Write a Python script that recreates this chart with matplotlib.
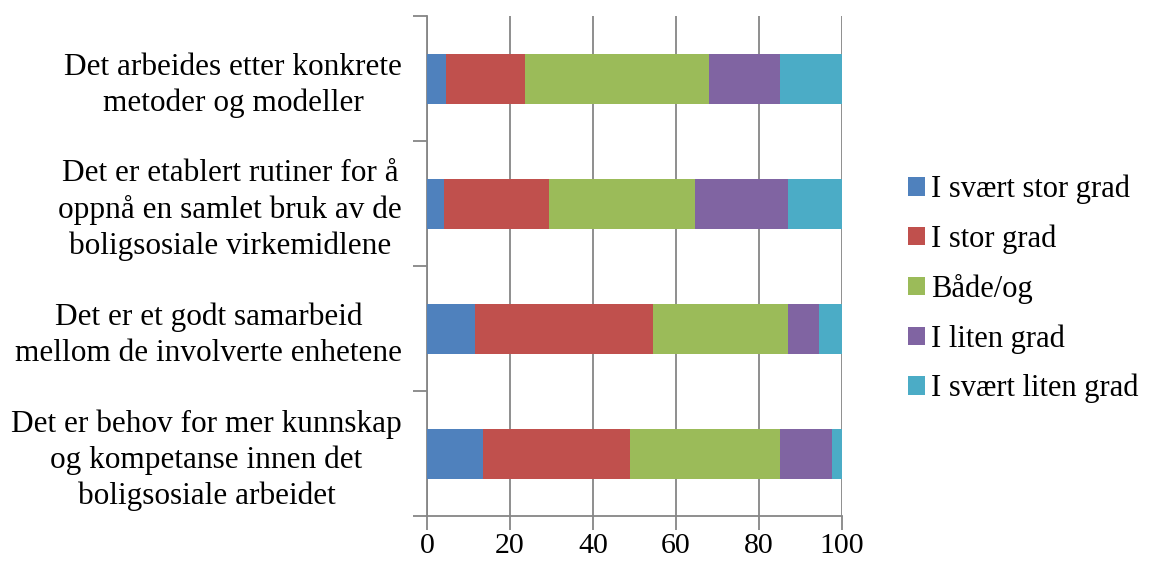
import matplotlib
matplotlib.use("Agg")
import matplotlib.pyplot as plt
import numpy as np

# Survey statements (top to bottom as shown) and response shares in percent
statements = [
    "Det arbeides etter konkrete\nmetoder og modeller",
    "Det er etablert rutiner for å\noppnå en samlet bruk av de\nboligsosiale virkemidlene",
    "Det er et godt samarbeid\nmellom de involverte enhetene",
    "Det er behov for mer kunnskap\nog kompetanse innen det\nboligsosiale arbeidet",
]
categories = ["I svært stor grad", "I stor grad", "Både/og", "I liten grad", "I svært liten grad"]
svaert_stor = [4.6, 4.1, 11.5, 13.5]
stor = [18.9, 25.4, 42.9, 35.5]
baade_og = [44.5, 35.0, 32.7, 36.1]
liten = [17.1, 22.4, 7.4, 12.5]
svaert_liten = [14.9, 13.1, 5.5, 2.4]
xticks = [0, 20, 40, 60, 80, 100]

colors = ["#4F81BD", "#C0504D", "#9BBB59", "#8064A2", "#4BACC6"]
series = [svaert_stor, stor, baade_og, liten, svaert_liten]

plt.rcParams["font.family"] = ["Liberation Serif", "DejaVu Serif"]
fs = 22.5

fig = plt.figure(figsize=(11.49, 5.64), dpi=100)
ax = fig.add_axes([427 / 1149, 1 - 516 / 564, 415 / 1149, 500 / 564])

n = len(statements)
ypos = np.arange(n)[::-1]  # first statement at the top
left = np.zeros(n)
for vals, col, lab in zip(series, colors, categories):
    vals = np.array(vals)
    ax.barh(ypos, vals, left=left, height=0.4, color=col, label=lab, zorder=3)
    left += vals

ax.set_xlim(0, 100)
ax.set_ylim(-0.5, n - 0.5)
ax.set_xticks(xticks)
ax.set_xticklabels([str(t) for t in xticks], fontsize=21.5)
ax.set_yticks(ypos)
ax.set_yticklabels(statements, fontsize=fs, multialignment="center", linespacing=1.3)
ax.tick_params(axis="y", length=0, pad=18)
ax.set_yticks(np.arange(-0.5, n, 1.0), minor=True)
ax.tick_params(axis="y", which="minor", length=10, width=1.3, color="#868686", direction="out")
ax.tick_params(axis="x", length=10, width=1.3, color="#868686", direction="out", pad=2)

ax.grid(axis="x", color="#868686", linewidth=1.3, zorder=0)
for side in ["top", "right"]:
    ax.spines[side].set_visible(False)
for side in ["left", "bottom"]:
    ax.spines[side].set_color("#868686")
    ax.spines[side].set_linewidth(1.3)

fig.legend(
    loc="center left",
    bbox_to_anchor=(893 / 1149, 1 - 289 / 564),
    frameon=False,
    fontsize=22,
    handlelength=0.55,
    handleheight=0.55,
    handletextpad=0.2,
    labelspacing=0.66,
    borderpad=0,
)

fig.savefig("out.png", dpi=100)
